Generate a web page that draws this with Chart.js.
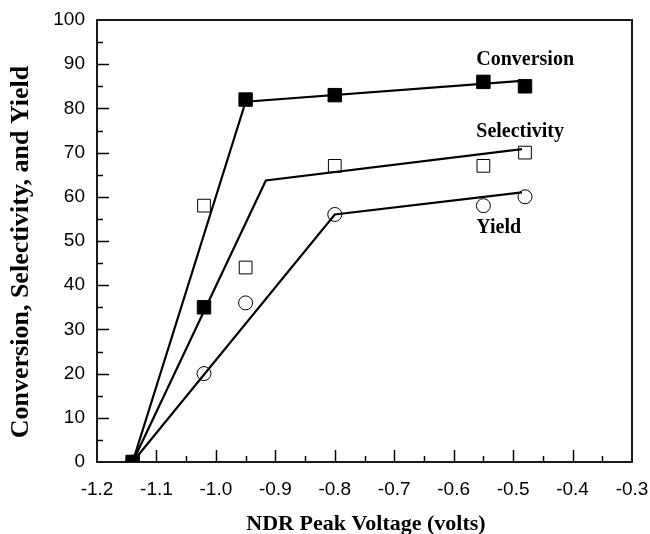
<!DOCTYPE html>
<html>
<head>
<meta charset="utf-8">
<script src="https://cdn.jsdelivr.net/npm/chart.js@4.4.1/dist/chart.umd.min.js"></script>
<style>
  html, body { margin: 0; padding: 0; background: #fff; }
  #wrap { width: 650px; height: 534px; }
</style>
</head>
<body>
<div id="wrap"><canvas id="ndr-chart" width="650" height="534"></canvas></div>
<script>
// measured points
const voltage     = [-1.14, -1.02, -0.95, -0.80, -0.55, -0.48];
const conversion  = [0, 35, 82, 83, 86, 85];
const selectivity = [0, 58, 44, 67, 67, 70];
const yieldVals   = [0, 20, 36, 56, 58, 60];

// hand drawn trend lines (two segments each)
const convLineX = [-1.14, -0.95, -0.48];
const convLineY = [0, 81.5, 86.3];
const selLineX  = [-1.14, -0.916, -0.485];
const selLineY  = [0, 63.7, 70.8];
const yldLineX  = [-1.14, -0.80, -0.485];
const yldLineY  = [0, 56, 61];

const xTicks = [-1.2, -1.1, -1.0, -0.9, -0.8, -0.7, -0.6, -0.5, -0.4, -0.3];
const yTicks = [0, 10, 20, 30, 40, 50, 60, 70, 80, 90, 100];

const seriesLabels = [
    { text: "Conversion", x: -0.562, y: 91 },
    { text: "Selectivity", x: -0.562, y: 74.7 },
    { text: "Yield", x: -0.562, y: 52.9 }
];

function pts(xs, ys){
    let out = [];
    for(let i = 0; i < xs.length; i++){
        out.push({ x: xs[i], y: ys[i] });
    }
    return out;
}

const serif = "'Liberation Serif', 'Times New Roman', serif";
const sans = "'Liberation Sans', Arial, sans-serif";

function lineSet(xs, ys){
    return {
        type: 'line',
        data: pts(xs, ys),
        borderColor: '#000',
        borderWidth: 2.2,
        pointRadius: 0,
        showLine: true,
        fill: false,
        tension: 0
    };
}

// frame, inward ticks and text
const decorations = {
    id: 'decorations',
    afterDraw(chart){
        const ctx = chart.ctx;
        const a = chart.chartArea;
        const xs = chart.scales.x;
        const ys = chart.scales.y;
        ctx.save();
        ctx.strokeStyle = '#000';
        ctx.lineWidth = 1.5;
        ctx.beginPath();
        // x ticks, minor every 0.05
        for(let i = 1; i < 18; i++){
            let px = Math.round(xs.getPixelForValue(-1.2 + i * 0.05)) + 0.5;
            let len = (i % 2 === 0) ? 12 : 6;
            ctx.moveTo(px, a.bottom);
            ctx.lineTo(px, a.bottom - len);
        }
        // y ticks, minor every 5
        for(let i = 1; i < 20; i++){
            let py = Math.round(ys.getPixelForValue(i * 5)) + 0.5;
            let len = (i % 2 === 0) ? 12 : 6;
            ctx.moveTo(a.left, py);
            ctx.lineTo(a.left + len, py);
        }
        ctx.stroke();
        ctx.lineWidth = 1.8;
        ctx.strokeRect(a.left, a.top, a.right - a.left, a.bottom - a.top);

        ctx.fillStyle = '#000';
        ctx.font = "bold 20px " + serif;
        ctx.textAlign = 'left';
        ctx.textBaseline = 'middle';
        for(let l of seriesLabels){
            ctx.fillText(l.text, xs.getPixelForValue(l.x), ys.getPixelForValue(l.y));
        }

        ctx.textAlign = 'center';
        ctx.font = "bold 22px " + serif;
        ctx.fillText("NDR Peak Voltage (volts)", 366, 524);

        ctx.translate(21, 252);
        ctx.rotate(-Math.PI / 2);
        ctx.font = "bold 26px " + serif;
        ctx.fillText("Conversion, Selectivity, and Yield", 0, 0);
        ctx.restore();
    }
};

// Chart.js paints dataset 0 last, so the filled squares come first here
const chart = new Chart(document.getElementById('ndr-chart'), {
    type: 'scatter',
    data: {
        datasets: [
            {
                label: 'Conversion',
                data: pts(voltage, conversion),
                pointStyle: 'rect',
                pointRadius: 9.5,
                backgroundColor: '#000',
                borderColor: '#000',
                borderWidth: 1,
                showLine: false
            },
            lineSet(convLineX, convLineY),
            lineSet(selLineX, selLineY),
            lineSet(yldLineX, yldLineY),
            {
                label: 'Selectivity',
                data: pts(voltage, selectivity),
                pointStyle: 'rect',
                pointRadius: 9,
                backgroundColor: '#fff',
                borderColor: '#000',
                borderWidth: 1,
                showLine: false
            },
            {
                label: 'Yield',
                data: pts(voltage, yieldVals),
                pointStyle: 'circle',
                pointRadius: 7,
                backgroundColor: '#fff',
                borderColor: '#000',
                borderWidth: 1,
                showLine: false
            }
        ]
    },
    options: {
        responsive: false,
        animation: false,
        events: [],
        layout: { padding: { top: 20, right: 18, left: 0, bottom: 0 } },
        plugins: {
            legend: { display: false },
            tooltip: { enabled: false }
        },
        scales: {
            x: {
                type: 'linear',
                min: -1.2,
                max: -0.3,
                afterFit: s => { s.height = 72; s.paddingLeft = 0; s.paddingRight = 0; },
                afterBuildTicks: s => { s.ticks = xTicks.map(v => ({ value: v })); },
                grid: { display: false, drawTicks: false },
                border: { display: false },
                ticks: {
                    padding: 16,
                    color: '#000',
                    font: { family: sans, size: 19 },
                    maxRotation: 0,
                    callback: v => v.toFixed(1)
                }
            },
            y: {
                type: 'linear',
                min: 0,
                max: 100,
                afterFit: s => { s.width = 97; s.paddingTop = 0; s.paddingBottom = 0; },
                afterBuildTicks: s => { s.ticks = yTicks.map(v => ({ value: v })); },
                grid: { display: false, drawTicks: false },
                border: { display: false },
                ticks: {
                    padding: 12,
                    color: '#000',
                    font: { family: sans, size: 19 },
                    callback: v => String(v)
                }
            }
        }
    },
    plugins: [decorations]
});
</script>
</body>
</html>
